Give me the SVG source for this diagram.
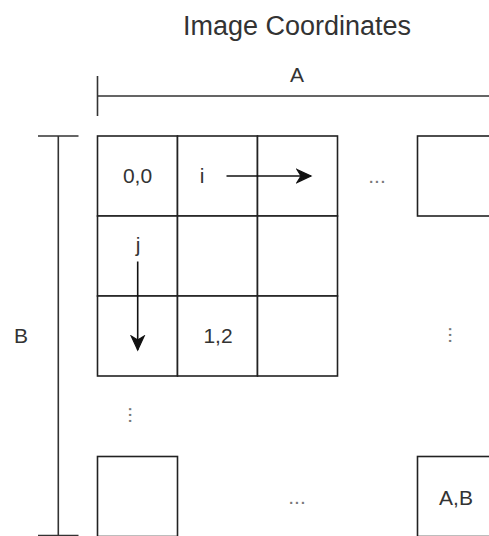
<svg xmlns="http://www.w3.org/2000/svg" width="489" height="536" viewBox="0 0 489 536">
  <style>
    .cell { fill: #ffffff; stroke: #222222; stroke-width: 1.6; }
    .rule { fill: none; stroke: #333333; stroke-width: 1.6; }
    .arrow { fill: none; stroke: #111111; stroke-width: 1.6; }
    .lbl { font-family: "Liberation Sans", Arial, sans-serif; font-size: 21px; fill: #333333; text-anchor: middle; }
    .title { font-family: "Liberation Sans", Arial, sans-serif; font-size: 27px; fill: #333333; text-anchor: middle; }
    .dots { font-family: "Liberation Sans", Arial, sans-serif; font-size: 21px; fill: #777777; text-anchor: middle; }
  </style>
  <defs>
    <marker id="head" markerUnits="userSpaceOnUse" markerWidth="18" markerHeight="16" refX="15" refY="8" orient="auto">
      <path d="M1,1.5 L15,8 L1,14.5 L5,8 Z" fill="#111111" stroke="#111111" stroke-width="1.2" stroke-linejoin="miter"/>
    </marker>
  </defs>

  <rect width="489" height="536" fill="#ffffff"/>

  <text class="title" x="297" y="35">Image Coordinates</text>

  <!-- 3x3 block of pixels -->
  <g id="cell-0-0"><rect class="cell" x="97.5" y="136" width="80" height="80"/><text class="lbl" x="137.5" y="183">0,0</text></g>
  <g id="cell-1-0"><rect class="cell" x="177.5" y="136" width="80" height="80"/><text class="lbl" x="202" y="183">i</text></g>
  <g id="cell-2-0"><rect class="cell" x="257.5" y="136" width="80" height="80"/></g>
  <g id="cell-0-1"><rect class="cell" x="97.5" y="216" width="80" height="80"/><text class="lbl" x="138" y="252">j</text></g>
  <g id="cell-1-1"><rect class="cell" x="177.5" y="216" width="80" height="80"/></g>
  <g id="cell-2-1"><rect class="cell" x="257.5" y="216" width="80" height="80"/></g>
  <g id="cell-0-2"><rect class="cell" x="97.5" y="296" width="80" height="80"/></g>
  <g id="cell-1-2"><rect class="cell" x="177.5" y="296" width="80" height="80"/><text class="lbl" x="218" y="343">1,2</text></g>
  <g id="cell-2-2"><rect class="cell" x="257.5" y="296" width="80" height="80"/></g>

  <!-- far corners of the image -->
  <g id="cell-top-right"><rect class="cell" x="417.5" y="136" width="80" height="80"/></g>
  <g id="cell-bottom-left"><rect class="cell" x="97.5" y="456.5" width="80" height="80"/></g>
  <g id="cell-bottom-right"><rect class="cell" x="417.5" y="456.5" width="80" height="80"/><text class="lbl" x="456" y="505">A,B</text></g>

  <!-- ellipses for skipped pixels -->
  <g id="ellipses">
    <text class="dots" x="377" y="183">...</text>
    <text class="dots" x="297" y="504">...</text>
    <text class="dots" transform="translate(448.5,335) rotate(90)" x="0" y="0">...</text>
    <text class="dots" transform="translate(128.5,415) rotate(90)" x="0" y="0">...</text>
  </g>

  <!-- dimension labels -->
  <g id="label-A"><text class="lbl" x="297" y="82">A</text></g>
  <g id="label-B"><text class="lbl" x="21" y="343">B</text></g>

  <g id="connectors">
    <!-- width rule -->
    <path class="rule" d="M97.5,76 V116 M97.5,96 H489"/>
    <!-- height rule -->
    <path class="rule" d="M38,136 H78.5 M58.3,136 V535.5 M38,535.5 H78.5"/>
    <!-- scan directions -->
    <path class="arrow" d="M226.5,176 H311" marker-end="url(#head)"/>
    <path class="arrow" d="M137.7,261.5 V350" marker-end="url(#head)"/>
  </g>
</svg>
